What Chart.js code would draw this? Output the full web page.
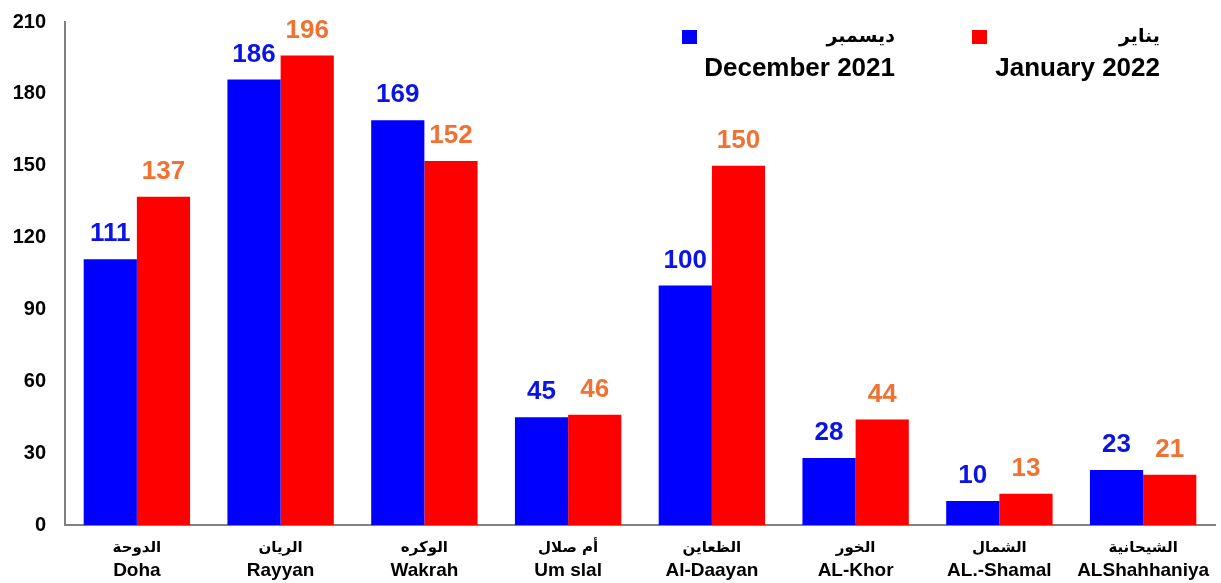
<!DOCTYPE html>
<html>
<head>
<meta charset="utf-8">
<script src="https://cdn.jsdelivr.net/npm/chart.js@4"></script>
<style>
  html, body { margin: 0; padding: 0; background: #fff; }
  #wrap { width: 1221px; height: 583px; position: relative; }
</style>
</head>
<body>
<div id="wrap"><canvas id="myChart"></canvas></div>
<script>
// categories
const arabicNames = ['الدوحة', 'الريان', 'الوكره', 'أم صلال', 'الظعاين', 'الخور', 'الشمال', 'الشيحانية'];
const englishNames = ['Doha', 'Rayyan', 'Wakrah', 'Um slal', 'Al-Daayan', 'AL-Khor', 'AL.-Shamal', 'ALShahhaniya'];

// series
const december2021 = [111, 186, 169, 45, 100, 28, 10, 23];
const january2022 = [137, 196, 152, 46, 150, 44, 13, 21];

const FONT = '"Liberation Sans", Arial, sans-serif';
const AR_FONT = '"DejaVu Sans", "Liberation Sans", sans-serif';

// numbers above the bars
const valueLabels = {
    id: 'valueLabels',
    afterDatasetsDraw(chart) {
        const ctx = chart.ctx;
        ctx.save();
        ctx.font = 'bold 26px ' + FONT;
        ctx.textAlign = 'center';
        ctx.textBaseline = 'bottom';
        chart.data.datasets.forEach((ds, i) => {
            ctx.fillStyle = ds.labelColor;
            chart.getDatasetMeta(i).data.forEach((bar, j) => {
                ctx.fillText(ds.data[j], bar.x, bar.y - 12);
            });
        });
        ctx.restore();
    }
};

// two-line category labels (arabic on top, english below)
const categoryLabels = {
    id: 'categoryLabels',
    afterDraw(chart) {
        const ctx = chart.ctx;
        const x = chart.scales.x;
        const base = chart.chartArea.bottom;
        ctx.save();
        ctx.fillStyle = '#000';
        ctx.textAlign = 'center';
        ctx.textBaseline = 'middle';
        arabicNames.forEach((name, i) => {
            const px = x.getPixelForValue(i);
            ctx.font = 'bold 15px ' + AR_FONT;
            ctx.fillText(name, px, base + 23);
            ctx.font = 'bold 19px ' + FONT;
            ctx.fillText(englishNames[i], px, base + 46);
        });
        ctx.restore();
    }
};

// legend top right
const customLegend = {
    id: 'customLegend',
    afterDraw(chart) {
        const ctx = chart.ctx;
        const items = [
            {color: '#0000FF', ar: 'ديسمبر', en: 'December 2021', sq: 682, right: 895},
            {color: '#FF0000', ar: 'يناير', en: 'January 2022', sq: 972, right: 1160}
        ];
        ctx.save();
        items.forEach(it => {
            ctx.fillStyle = it.color;
            ctx.fillRect(it.sq, 30, 15, 14);
            ctx.fillStyle = '#000';
            ctx.textAlign = 'right';
            ctx.textBaseline = 'middle';
            ctx.font = 'bold 19px ' + AR_FONT;
            ctx.fillText(it.ar, it.right, 37);
            ctx.font = 'bold 26px ' + FONT;
            ctx.fillText(it.en, it.right, 69);
        });
        ctx.restore();
    }
};

const chartData = {
    labels: englishNames,
    datasets: [
        {
            label: 'December 2021',
            data: december2021,
            backgroundColor: '#0000FF',
            labelColor: '#0A14E6',
            categoryPercentage: 0.74,
            barPercentage: 1.0
        },
        {
            label: 'January 2022',
            data: january2022,
            backgroundColor: '#FF0000',
            labelColor: '#F07233',
            categoryPercentage: 0.74,
            barPercentage: 1.0
        }
    ]
};

const config = {
    type: 'bar',
    data: chartData,
    options: {
        responsive: true,
        maintainAspectRatio: false,
        animation: false,
        layout: {padding: {top: 0, right: 6, left: 0, bottom: 0}},
        scales: {
            x: {
                grid: {display: false, drawTicks: false},
                border: {color: '#808080', width: 2},
                ticks: {display: false},
                afterFit(scale) { scale.height = 58; }
            },
            y: {
                min: 0,
                max: 210,
                grid: {display: false, drawTicks: false},
                border: {color: '#808080', width: 2},
                ticks: {
                    stepSize: 30,
                    padding: 19,
                    color: '#000',
                    font: {family: FONT, size: 20, weight: 'bold'}
                },
                afterFit(scale) {
                    scale.width = 65;
                    scale.paddingTop = 22;
                }
            }
        },
        plugins: {
            legend: {display: false},
            tooltip: {enabled: false}
        }
    },
    plugins: [valueLabels, categoryLabels, customLegend]
};

const myChart = new Chart(document.getElementById('myChart'), config);
</script>
</body>
</html>
